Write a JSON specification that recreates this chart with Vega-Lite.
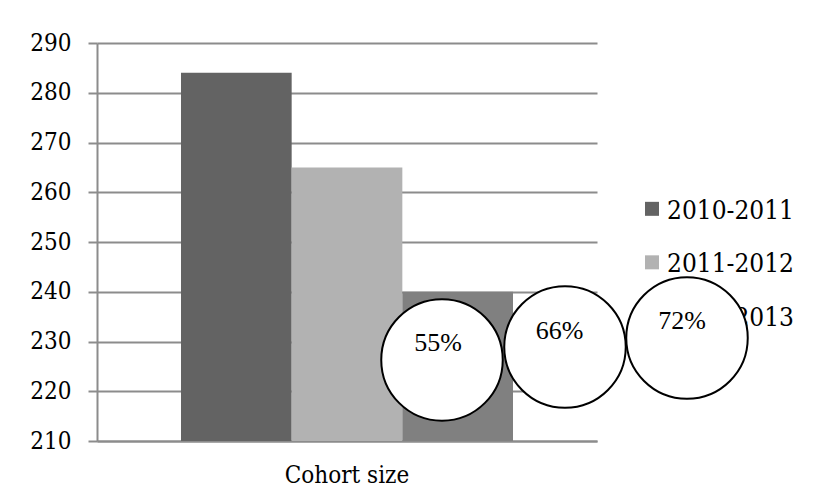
{
  "$schema": "https://vega.github.io/schema/vega-lite/v6.json",
  "autosize": {"type": "none"},
  "padding": {"left": 97, "top": 43, "right": 220, "bottom": 60},
  "width": 500,
  "height": 398,
  "background": "white",
  "config": {"view": {"stroke": null}},
  "datasets": {
    "cohort": [
      {"category": "Cohort size", "year": "2010-2011", "students": 284},
      {"category": "Cohort size", "year": "2011-2012", "students": 265},
      {"category": "Cohort size", "year": "2012-2013", "students": 240}
    ]
  },
  "layer": [
    {
      "data": {"name": "cohort"},
      "mark": {"type": "bar", "clip": true},
      "encoding": {
        "x": {
          "field": "category",
          "type": "nominal",
          "scale": {"paddingInner": 0, "paddingOuter": 0.253},
          "axis": {
            "title": null,
            "labelAngle": 0,
            "ticks": false,
            "domainColor": "#8c8c8c",
            "domainWidth": 2,
            "labelFont": "DejaVu Serif Condensed",
            "labelFontSize": 24,
            "labelColor": "#000000",
            "labelPadding": 22
          }
        },
        "xOffset": {
          "field": "year",
          "type": "nominal",
          "scale": {"paddingInner": 0, "paddingOuter": 0}
        },
        "y": {
          "field": "students",
          "type": "quantitative",
          "scale": {"domain": [210, 290], "nice": false, "zero": false},
          "axis": {
            "title": null,
            "values": [210, 220, 230, 240, 250, 260, 270, 280, 290],
            "grid": true,
            "gridColor": "#8c8c8c",
            "gridWidth": 2,
            "domainColor": "#8c8c8c",
            "domainWidth": 2,
            "tickColor": "#8c8c8c",
            "tickWidth": 2,
            "tickSize": 9,
            "labelPadding": 17,
            "labelFont": "DejaVu Serif Condensed",
            "labelFontSize": 24,
            "labelColor": "#000000"
          }
        },
        "color": {
          "field": "year",
          "type": "nominal",
          "scale": {
            "domain": ["2010-2011", "2011-2012", "2012-2013"],
            "range": ["#636363", "#b2b2b2", "#808080"]
          },
          "legend": null
        }
      }
    },
    {
      "data": {"name": "cohort"},
      "transform": [{"window": [{"op": "row_number", "as": "legendRow"}]}],
      "mark": {"type": "square", "size": 196, "filled": true, "opacity": 1, "clip": false},
      "encoding": {
        "x": {"datum": 1.11, "type": "quantitative", "scale": {"domain": [0, 1], "nice": false, "zero": false}, "axis": null},
        "y": {"field": "legendRow", "type": "quantitative", "scale": {"domain": [-2.1, 5.34], "reverse": true, "nice": false, "zero": false}, "axis": null},
        "color": {"field": "year", "type": "nominal", "legend": null}
      }
    },
    {
      "data": {"name": "cohort"},
      "transform": [{"window": [{"op": "row_number", "as": "legendRow"}]}],
      "mark": {
        "type": "text",
        "font": "DejaVu Serif Condensed",
        "fontSize": 26,
        "color": "#000000",
        "align": "left",
        "baseline": "middle",
        "dy": 2,
        "clip": false
      },
      "encoding": {
        "x": {"datum": 1.14, "type": "quantitative", "scale": {"domain": [0, 1], "nice": false, "zero": false}, "axis": null},
        "y": {"field": "legendRow", "type": "quantitative", "scale": {"domain": [-2.1, 5.34], "reverse": true, "nice": false, "zero": false}, "axis": null},
        "text": {"field": "year", "type": "nominal"}
      }
    },
    {
      "data": {
        "values": [
          {"label": "55%", "cx": 0.69, "cy": 226.3},
          {"label": "66%", "cx": 0.936, "cy": 228.9},
          {"label": "72%", "cx": 1.18, "cy": 230.7}
        ]
      },
      "mark": {
        "type": "point",
        "shape": "circle",
        "filled": true,
        "fill": "#ffffff",
        "stroke": "#000000",
        "strokeWidth": 2,
        "opacity": 1,
        "fillOpacity": 1,
        "strokeOpacity": 1,
        "size": 14760,
        "clip": false
      },
      "encoding": {
        "x": {"field": "cx", "type": "quantitative", "scale": {"domain": [0, 1], "nice": false, "zero": false}, "axis": null},
        "y": {"field": "cy", "type": "quantitative", "scale": {"domain": [210, 290], "nice": false, "zero": false}, "axis": null}
      }
    },
    {
      "data": {
        "values": [
          {"label": "55%", "tx": 0.682, "ty": 229.6},
          {"label": "66%", "tx": 0.925, "ty": 232.2},
          {"label": "72%", "tx": 1.17, "ty": 234.2}
        ]
      },
      "mark": {
        "type": "text",
        "font": "Liberation Serif",
        "fontSize": 26,
        "color": "#000000",
        "align": "center",
        "baseline": "middle",
        "clip": false
      },
      "encoding": {
        "x": {"field": "tx", "type": "quantitative", "scale": {"domain": [0, 1], "nice": false, "zero": false}, "axis": null},
        "y": {"field": "ty", "type": "quantitative", "scale": {"domain": [210, 290], "nice": false, "zero": false}, "axis": null},
        "text": {"field": "label", "type": "nominal"}
      }
    }
  ],
  "resolve": {"scale": {"x": "independent", "y": "independent"}}
}
